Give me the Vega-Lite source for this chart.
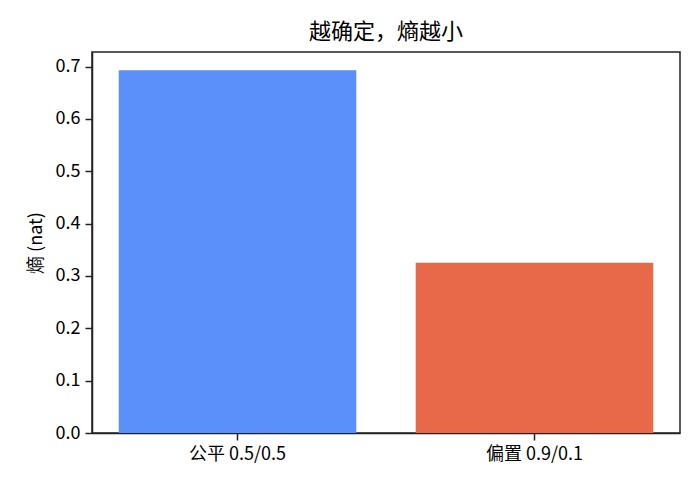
{
  "$schema": "https://vega.github.io/schema/vega-lite/v6.json",
  "autosize": {"type": "none"},
  "padding": {"left": 92, "top": 52, "right": 20, "bottom": 57},
  "width": 588,
  "height": 381,
  "background": "white",
  "title": {
    "text": "越确定，熵越小",
    "font": "Noto Sans CJK SC",
    "fontSize": 22,
    "fontWeight": "normal",
    "color": "black",
    "offset": 8
  },
  "config": {
    "view": {"stroke": "#222222", "strokeWidth": 1.5},
    "axis": {
      "labelFont": "Noto Sans CJK SC",
      "titleFont": "Noto Sans CJK SC",
      "labelFontSize": 18,
      "titleFontSize": 18,
      "titleFontWeight": "normal",
      "labelColor": "black",
      "titleColor": "black",
      "grid": false,
      "domainColor": "#222222",
      "domainWidth": 1.5,
      "tickColor": "#222222",
      "tickWidth": 1.5,
      "tickSize": 7,
      "labelPadding": 5
    }
  },
  "data": {
    "values": [
      {"case": "公平 0.5/0.5", "entropy": 0.6931},
      {"case": "偏置 0.9/0.1", "entropy": 0.3251}
    ]
  },
  "mark": {"type": "bar"},
  "encoding": {
    "x": {
      "field": "case",
      "type": "nominal",
      "sort": null,
      "scale": {"paddingInner": 0.2, "paddingOuter": 0.09},
      "axis": {"title": null, "labelAngle": 0}
    },
    "y": {
      "field": "entropy",
      "type": "quantitative",
      "scale": {"domain": [0, 0.7278], "nice": false},
      "axis": {"title": "熵 (nat)", "values": [0, 0.1, 0.2, 0.3, 0.4, 0.5, 0.6, 0.7], "format": ".1f", "titlePadding": 10}
    },
    "color": {
      "field": "case",
      "type": "nominal",
      "sort": null,
      "scale": {"domain": ["公平 0.5/0.5", "偏置 0.9/0.1"], "range": ["#5B8FF9", "#E8684A"]},
      "legend": null
    }
  }
}
